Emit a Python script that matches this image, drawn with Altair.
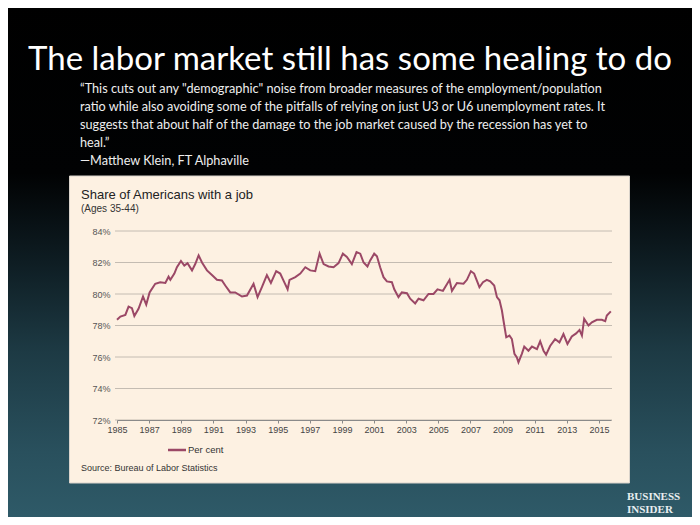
import altair as alt
import pandas as pd

# ---- data ----
years = [1985.00, 1985.21, 1985.52, 1985.72, 1985.93, 1986.08, 1986.34, 1986.62, 1986.82, 1987.03,
         1987.38, 1987.69, 1988.01, 1988.21, 1988.32, 1988.57, 1988.73, 1988.98, 1989.19, 1989.39,
         1989.67, 1989.87, 1990.08, 1990.29, 1990.60, 1990.91, 1991.22, 1991.53, 1991.74, 1992.05,
         1992.36, 1992.78, 1993.09, 1993.50, 1993.75, 1994.02, 1994.33, 1994.58, 1994.91, 1995.16,
         1995.41, 1995.62, 1995.74, 1996.10, 1996.41, 1996.72, 1997.03, 1997.34, 1997.61, 1997.86,
         1998.17, 1998.48, 1998.79, 1999.06, 1999.31, 1999.62, 1999.91, 2000.14, 2000.35, 2000.59,
         2000.76, 2001.01, 2001.18, 2001.38, 2001.59, 2001.80, 2002.11, 2002.26, 2002.52, 2002.73,
         2003.05, 2003.25, 2003.56, 2003.77, 2004.08, 2004.39, 2004.70, 2004.95, 2005.29, 2005.70,
         2005.85, 2006.16, 2006.57, 2006.78, 2007.03, 2007.23, 2007.56, 2007.78, 2008.02, 2008.23,
         2008.48, 2008.65, 2008.81, 2008.96, 2009.06, 2009.23, 2009.43, 2009.58, 2009.74, 2009.89,
         2009.99, 2010.20, 2010.35, 2010.61, 2010.83, 2011.14, 2011.34, 2011.55, 2011.71, 2011.96,
         2012.27, 2012.54, 2012.79, 2013.04, 2013.31, 2013.58, 2013.79, 2013.94, 2014.08, 2014.35,
         2014.56, 2014.87, 2015.18, 2015.39, 2015.49, 2015.74]
share = [78.36, 78.57, 78.67, 79.20, 79.10, 78.60, 79.06, 79.84, 79.33, 80.10,
         80.65, 80.75, 80.70, 81.10, 80.90, 81.30, 81.70, 82.10, 81.80, 81.96,
         81.50, 81.90, 82.45, 82.00, 81.50, 81.20, 80.90, 80.86, 80.54, 80.10,
         80.10, 79.84, 79.90, 80.65, 79.80, 80.43, 81.20, 80.70, 81.45, 81.30,
         80.75, 80.30, 80.90, 81.07, 81.30, 81.70, 81.50, 81.45, 82.56, 81.90,
         81.75, 81.70, 81.96, 82.56, 82.35, 81.90, 82.66, 82.56, 82.00, 81.75,
         82.13, 82.56, 82.40, 81.70, 81.07, 80.80, 80.75, 80.30, 79.80, 80.10,
         80.05, 79.70, 79.40, 79.70, 79.60, 80.00, 80.00, 80.30, 80.20, 80.90,
         80.20, 80.70, 80.65, 80.90, 81.45, 81.30, 80.43, 80.75, 80.90, 80.80,
         80.54, 79.80, 79.60, 78.95, 78.30, 77.25, 77.36, 77.14, 76.20, 75.97,
         75.66, 76.20, 76.66, 76.40, 76.66, 76.50, 77.00, 76.40, 76.15, 76.70,
         77.14, 76.93, 77.46, 76.83, 77.30, 77.50, 77.72, 77.36, 78.42, 78.00,
         78.20, 78.36, 78.36, 78.27, 78.63, 78.90]

x_ticks = [1985, 1987, 1989, 1991, 1993, 1995, 1997, 1999, 2001, 2003, 2005, 2007, 2009, 2011, 2013, 2015]
y_ticks = [72, 74, 76, 78, 80, 82, 84]

slide_title = ["The labor market still has some healing to do"]
quote_lines = [
    "\u201cThis cuts out any \"demographic\" noise from broader measures of the employment/population",
    "ratio while also avoiding some of the pitfalls of relying on just U3 or U6 unemployment rates. It",
    "suggests that about half of the damage to the job market caused by the recession has yet to",
    "heal.\u201d",
    "\u2014Matthew Klein, FT Alphaville",
]
chart_title = ["Share of Americans with a job"]
chart_subtitle = ["(Ages 35-44)"]
legend_label = ["Per cent"]
source_text = ["Source: Bureau of Labor Statistics"]
logo_lines = ["BUSINESS", "INSIDER"]

# ---- layout constants ----
W, H = 494, 189
PAD = {"left": 109, "top": 223, "right": 81, "bottom": 97}
SANS = "'Liberation Sans', Arial, sans-serif"
SLIDE_FONT = "Lato, 'Open Sans', sans-serif"
LINE_COLOR = "#9b4866"

df = pd.DataFrame({"year": years, "share": share})
one = pd.DataFrame({"k": [0]})

xs = alt.Scale(domain=[1985, 2015.75], nice=False, zero=False)
ys = alt.Scale(domain=[72, 84], nice=False, zero=False)

bg = alt.Chart(one).mark_rect(
    fill=alt.LinearGradient(
        gradient="linear", x1=0, x2=0, y1=0, y2=1,
        stops=[
            alt.GradientStop(offset=0.0, color="#000000"),
            alt.GradientStop(offset=0.33, color="#010203"),
            alt.GradientStop(offset=0.5, color="#0e1d23"),
            alt.GradientStop(offset=0.67, color="#1d3a44"),
            alt.GradientStop(offset=0.86, color="#29505d"),
            alt.GradientStop(offset=1.0, color="#2f5b69"),
        ],
    )
).encode(x=alt.value(-117), x2=alt.value(583), y=alt.value(-231), y2=alt.value(294))

panel = alt.Chart(one).mark_rect(fill="#fdf1e2", stroke="#d9d3cb", strokeWidth=1).encode(
    x=alt.value(-47.5), x2=alt.value(512.5), y=alt.value(-55), y2=alt.value(252)
)

title_df = pd.DataFrame({"t": slide_title})
title_txt = alt.Chart(title_df).mark_text(
    font=SLIDE_FONT, fontSize=33, color="#ffffff", align="center", baseline="alphabetic"
).encode(x=alt.value(233), y=alt.value(-161), text="t:N")

quote_df = pd.DataFrame({"t": quote_lines, "i": list(range(len(quote_lines)))})
quote_txt = alt.Chart(quote_df).mark_text(
    font=SLIDE_FONT, fontSize=12.7, color="#eeeeee", align="left", baseline="alphabetic"
).encode(
    x=alt.value(-37),
    y=alt.Y("i:Q", scale=alt.Scale(domain=[0, len(quote_lines) - 1], range=[-138, -66]), axis=None),
    text="t:N",
)

ct_txt = alt.Chart(pd.DataFrame({"t": chart_title})).mark_text(
    font=SANS, fontSize=13, color="#222222", align="left", baseline="alphabetic"
).encode(x=alt.value(-36), y=alt.value(-32), text="t:N")

sub_txt = alt.Chart(pd.DataFrame({"t": chart_subtitle})).mark_text(
    font=SANS, fontSize=10, color="#333333", align="left", baseline="alphabetic"
).encode(x=alt.value(-36), y=alt.value(-19), text="t:N")

grid = alt.Chart(pd.DataFrame({"v": y_ticks})).mark_rule(color="#c4bcb2", strokeWidth=1).encode(
    y=alt.Y("v:Q", scale=ys, axis=None), x=alt.value(-2), x2=alt.value(495)
)

line = alt.Chart(df).mark_line(color=LINE_COLOR, strokeWidth=2).encode(
    x=alt.X("year:Q", scale=xs, axis=alt.Axis(
        values=x_ticks, format="d", title=None, grid=False, zindex=1,
        domainColor="#8a8a8a", tickColor="#8a8a8a", tickSize=3, labelPadding=2,
        labelFont=SANS, labelFontSize=9, labelColor="#444444", labelFlush=False)),
    y=alt.Y("share:Q", scale=ys, axis=alt.Axis(
        values=y_ticks, labelExpr="datum.value + '%'", title=None, grid=False, zindex=1,
        domain=False, ticks=False, labelPadding=7,
        labelFont=SANS, labelFontSize=9, labelColor="#555555")),
)

leg_line = alt.Chart(one).mark_rule(color=LINE_COLOR, strokeWidth=2.5).encode(
    x=alt.value(51), x2=alt.value(69), y=alt.value(219)
)
leg_txt = alt.Chart(pd.DataFrame({"t": legend_label})).mark_text(
    font=SANS, fontSize=9.5, color="#333333", align="left", baseline="alphabetic"
).encode(x=alt.value(71), y=alt.value(222), text="t:N")

src_txt = alt.Chart(pd.DataFrame({"t": source_text})).mark_text(
    font=SANS, fontSize=9, color="#333333", align="left", baseline="alphabetic"
).encode(x=alt.value(-36), y=alt.value(240), text="t:N")

logo_df = pd.DataFrame({"t": logo_lines, "i": [0, 1]})
logo_txt = alt.Chart(logo_df).mark_text(
    font="'Liberation Serif', 'DejaVu Serif', serif", fontSize=11, fontWeight="bold",
    color="#e8eef0", align="left", baseline="alphabetic"
).encode(
    x=alt.value(510),
    y=alt.Y("i:Q", scale=alt.Scale(domain=[0, 1], range=[269, 282]), axis=None),
    text="t:N",
)

chart = alt.layer(
    bg, panel, title_txt, quote_txt, ct_txt, sub_txt, grid, line, leg_line, leg_txt, src_txt, logo_txt
).resolve_scale(y="independent").properties(
    width=W, height=H, padding=PAD, autosize=alt.AutoSizeParams(type="none"),
    background="#000000",
).configure_view(stroke=None)

chart.save("out.html", embed_options={"renderer": "svg", "actions": False})
